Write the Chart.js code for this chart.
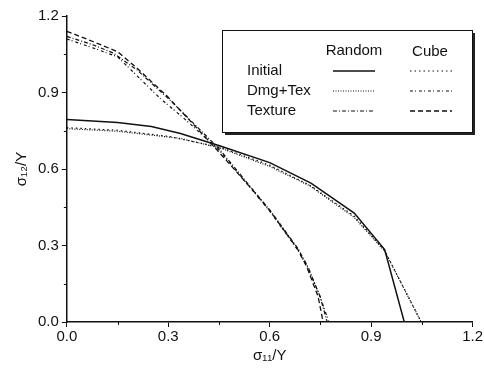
<!DOCTYPE html>
<html>
<head>
<meta charset="utf-8">
<script src="https://cdn.jsdelivr.net/npm/chart.js@4.4.1/dist/chart.umd.min.js"></script>
<style>
  html, body { margin: 0; padding: 0; background: #fff; }
  #wrap { width: 484px; height: 369px; }
</style>
</head>
<body>
<div id="wrap"><canvas id="mycanvas" width="484" height="369"></canvas></div>
<script>
// yield surface points, sigma11/Y vs sigma12/Y
var randomInitial = [[0,0.794],[0.15,0.782],[0.25,0.767],[0.336,0.739],[0.454,0.69],[0.6,0.625],[0.722,0.545],[0.85,0.427],[0.94,0.284],[0.998,0]];
var cubeInitial = [[0,0.762],[0.15,0.752],[0.3,0.728],[0.454,0.685],[0.6,0.615],[0.72,0.535],[0.85,0.415],[0.94,0.28],[1.048,0]];
var randomDmgTex = [[0,0.758],[0.15,0.748],[0.336,0.72],[0.454,0.682],[0.6,0.61],[0.72,0.533],[0.85,0.41],[0.94,0.278],[1.048,0]];
var cubeDmgTex = [[0,1.11],[0.077,1.075],[0.15,1.04],[0.276,0.877],[0.345,0.8],[0.45,0.675],[0.553,0.51],[0.603,0.43],[0.683,0.282],[0.713,0.212],[0.749,0.1],[0.775,0]];
var randomTexture = [[0,1.12],[0.077,1.087],[0.137,1.055],[0.208,0.988],[0.297,0.88],[0.345,0.818],[0.45,0.68],[0.553,0.514],[0.603,0.435],[0.683,0.289],[0.713,0.217],[0.749,0.099],[0.77,0]];
var cubeTexture = [[0,1.14],[0.077,1.1],[0.15,1.06],[0.208,0.995],[0.297,0.885],[0.434,0.69],[0.553,0.512],[0.603,0.432],[0.683,0.285],[0.71,0.215],[0.743,0.1],[0.758,0]];

var rowNames = ['Initial', 'Dmg+Tex', 'Texture'];
var colNames = ['Random', 'Cube'];
var xTicks = [0, 0.3, 0.6, 0.9, 1.2];
var yTicks = [0, 0.3, 0.6, 0.9, 1.2];
var minorTicks = [0.15, 0.45, 0.75, 1.05];

var FONT = '"Liberation Sans", Arial, sans-serif';

function pts(a) {
	return a.map(function(p){ return {x: p[0], y: p[1]}; });
}

function ds(label, data, dash, width, col, row) {
	return {
		label: label,
		data: pts(data),
		borderColor: '#111',
		borderWidth: width,
		borderDash: dash,
		pointRadius: 0,
		fill: false,
		tension: 0,
		legendCol: col,
		legendRow: row
	};
}

var datasets = [
	ds('Random Initial', randomInitial, [], 1.5, 0, 0),
	ds('Cube Initial', cubeInitial, [1.5, 3], 1.2, 1, 0),
	ds('Random Dmg+Tex', randomDmgTex, [1, 1.5], 1.2, 0, 1),
	ds('Cube Dmg+Tex', cubeDmgTex, [3, 2, 1, 3], 1.2, 1, 1),
	ds('Random Texture', randomTexture, [4, 2, 1, 2], 1.2, 0, 2),
	ds('Cube Texture', cubeTexture, [5, 3], 1.3, 1, 2)
];

/* small minor ticks between the labelled ones */
var minorTickPlugin = {
	id: 'minorTicks',
	afterDraw: function(chart) {
		var ctx = chart.ctx, xs = chart.scales.x, ys = chart.scales.y;
		ctx.save();
		ctx.strokeStyle = '#111';
		ctx.lineWidth = 1;
		minorTicks.forEach(function(v) {
			var px = Math.round(xs.getPixelForValue(v)) + 0.5;
			ctx.beginPath();
			ctx.moveTo(px, xs.top);
			ctx.lineTo(px, xs.top + 3);
			ctx.stroke();
			var py = Math.round(ys.getPixelForValue(v)) + 0.5;
			ctx.beginPath();
			ctx.moveTo(ys.right, py);
			ctx.lineTo(ys.right - 3, py);
			ctx.stroke();
		});
		ctx.restore();
	}
};

/* legend table drawn by hand, like the paper figure */
var tableLegend = {
	id: 'tableLegend',
	afterDraw: function(chart) {
		var ctx = chart.ctx;
		var bx = 222, by = 30, bw = 250, bh = 102;
		ctx.save();
		ctx.fillStyle = '#222';
		ctx.fillRect(bx + 3, by + 3, bw, bh);
		ctx.fillStyle = '#fff';
		ctx.fillRect(bx, by, bw, bh);
		ctx.strokeStyle = '#111';
		ctx.lineWidth = 1;
		ctx.strokeRect(bx + 0.5, by + 0.5, bw, bh);

		ctx.fillStyle = '#111';
		ctx.font = '15px ' + FONT;
		ctx.textBaseline = 'middle';
		ctx.textAlign = 'center';
		ctx.fillText(colNames[0], 354, 51);
		ctx.fillText(colNames[1], 430, 52);
		ctx.textAlign = 'left';
		var rowY = [71, 91, 111];
		for (var r = 0; r < rowNames.length; r++) {
			ctx.fillText(rowNames[r], 247, rowY[r]);
		}
		var colX = [[333, 375], [410, 452]];
		chart.data.datasets.forEach(function(d) {
			var y = rowY[d.legendRow];
			ctx.beginPath();
			ctx.setLineDash(d.borderDash);
			ctx.lineWidth = d.borderWidth;
			ctx.strokeStyle = d.borderColor;
			ctx.moveTo(colX[d.legendCol][0], y);
			ctx.lineTo(colX[d.legendCol][1], y);
			ctx.stroke();
		});
		ctx.restore();
	}
};

var ctx = document.getElementById('mycanvas');
var chart = new Chart(ctx, {
	type: 'line',
	data: { datasets: datasets },
	plugins: [minorTickPlugin, tableLegend],
	options: {
		responsive: false,
		animation: false,
		layout: { padding: { top: 16, right: 6, left: 9, bottom: 0 } },
		plugins: { legend: { display: false }, tooltip: { enabled: false } },
		scales: {
			x: {
				type: 'linear',
				min: 0, max: 1.2,
				afterBuildTicks: function(axis) { axis.ticks = xTicks.map(function(v){ return {value: v}; }); },
				ticks: {
					color: '#111',
					font: { size: 15, family: FONT },
					callback: function(v) { return v.toFixed(1); },
					padding: 1
				},
				grid: { drawOnChartArea: false, drawTicks: true, tickLength: 5, color: '#111' },
				border: { color: '#111', width: 1.5 },
				title: {
					display: true,
					text: 'σ₁₁/Y',
					color: '#111',
					font: { size: 15, family: FONT },
					padding: { top: 0, bottom: 4 }
				}
			},
			y: {
				type: 'linear',
				min: 0, max: 1.2,
				afterBuildTicks: function(axis) { axis.ticks = yTicks.map(function(v){ return {value: v}; }); },
				ticks: {
					color: '#111',
					font: { size: 15, family: FONT },
					callback: function(v) { return v.toFixed(1); },
					padding: 3
				},
				grid: { drawOnChartArea: false, drawTicks: true, tickLength: 5, color: '#111' },
				border: { color: '#111', width: 1.5 },
				title: {
					display: true,
					text: 'σ₁₂/Y',
					color: '#111',
					font: { size: 15, family: FONT },
					padding: { bottom: 4 }
				}
			}
		}
	}
});
</script>
</body>
</html>
